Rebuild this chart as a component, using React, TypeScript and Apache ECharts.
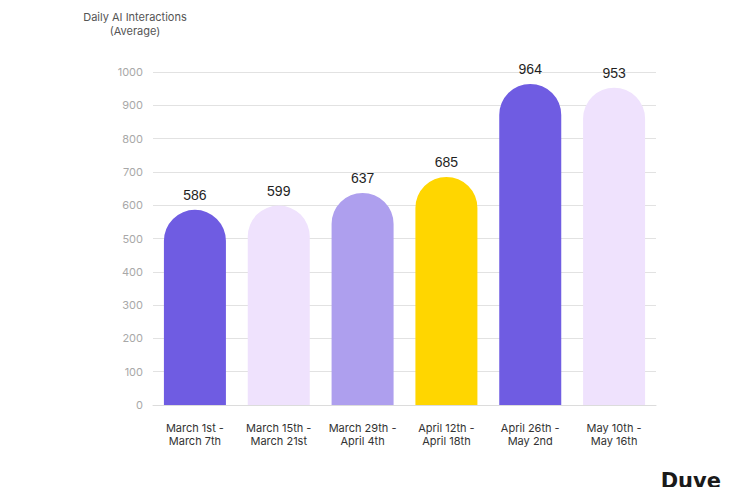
import React, { useEffect, useRef } from "react";
import * as echarts from "echarts";

const categories = [
  "March 1st -\nMarch 7th",
  "March 15th -\nMarch 21st",
  "March 29th -\nApril 4th",
  "April 12th -\nApril 18th",
  "April 26th -\nMay 2nd",
  "May 10th -\nMay 16th",
];
const values = [586, 599, 637, 685, 964, 953];
const barColors = ["#6F5CE2", "#EFE2FD", "#AE9FEE", "#FFD600", "#6F5CE2", "#EFE2FD"];
const yTitle = "Daily AI Interactions\n(Average)";
const brand = "Duve";

export default function App() {
  const ref = useRef<HTMLDivElement>(null);

  useEffect(() => {
    if (!ref.current) return;
    const chart = echarts.init(ref.current, undefined, { renderer: "svg" });
    chart.setOption({
      animation: false,
      backgroundColor: "#ffffff",
      grid: { left: 153, right: 79, top: 72, bottom: 90 },
      xAxis: {
        type: "category",
        data: categories,
        axisTick: { show: false },
        axisLine: { lineStyle: { color: "#dcdcdc", width: 1 } },
        axisLabel: {
          interval: 0,
          color: "#333333",
          fontSize: 11,
          lineHeight: 13,
          margin: 16,
          fontFamily: "Inter, 'Noto Sans', sans-serif",
        },
      },
      yAxis: {
        type: "value",
        min: 0,
        max: 1000,
        interval: 100,
        axisLine: { show: false },
        axisTick: { show: false },
        splitLine: { lineStyle: { color: "#e2e2e2", width: 1 } },
        axisLabel: {
          color: "#a8a8a8",
          fontSize: 11,
          margin: 10,
          formatter: (v: number) => String(v),
          fontFamily: "Inter, 'Noto Sans', sans-serif",
        },
      },
      graphic: [
        {
          type: "text",
          x: 135,
          y: 10,
          style: {
            text: yTitle,
            fill: "#555555",
            fontSize: 11,
            lineHeight: 14,
            textAlign: "center",
            fontFamily: "Inter, 'Noto Sans', sans-serif",
          },
        },
        {
          type: "text",
          right: 14,
          bottom: 4,
          style: {
            text: brand,
            fill: "#1a1a1a",
            fontSize: 21,
            fontWeight: 900,
            fontFamily: "'DejaVu Sans', sans-serif",
          },
        },
      ],
      series: [
        {
          type: "bar",
          barWidth: 62,
          data: values.map((v, i) => ({
            value: v,
            itemStyle: { color: barColors[i], borderRadius: [31, 31, 0, 0] },
          })),
          label: {
            show: true,
            position: "top",
            distance: 8,
            color: "#1f1f1f",
            fontSize: 14,
            fontFamily: "'Liberation Sans', Arial, sans-serif",
          },
        },
      ],
    });
    return () => chart.dispose();
  }, []);

  return <div ref={ref} style={{ width: 735, height: 495, margin: -8 }} />;
}
